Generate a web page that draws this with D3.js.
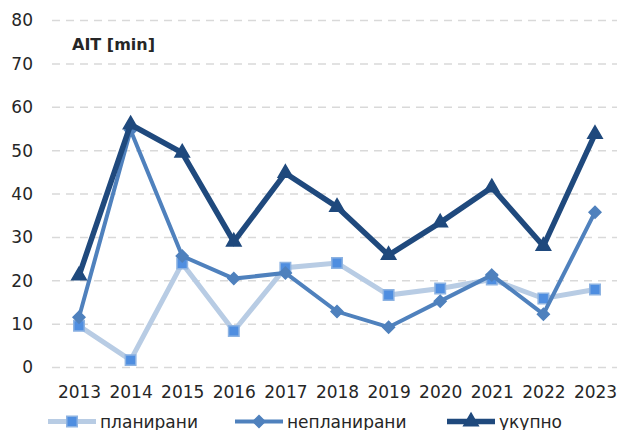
<!DOCTYPE html>
<html lang="mk">
<head>
    <meta charset="UTF-8">
    <title>AIT</title>
    <script src="https://d3js.org/d3.v7.min.js"></script>
    <style>
        body { margin: 0; background: #fff; }
        text { font-family: "DejaVu Sans", sans-serif; fill: #262626; }
    </style>
</head>
<body>
    <script>
        var years = ["2013", "2014", "2015", "2016", "2017", "2018", "2019", "2020", "2021", "2022", "2023"];
        var planirani = [9.6, 1.7, 24.0, 8.4, 23.0, 24.1, 16.7, 18.2, 20.3, 15.9, 18.0];
        var neplanirani = [11.6, 54.7, 25.7, 20.5, 21.8, 12.9, 9.3, 15.3, 21.3, 12.3, 35.8];
        var ukupno = [21.2, 56.0, 49.5, 29.0, 44.8, 37.0, 25.9, 33.4, 41.5, 28.0, 53.8];
        var yTicks = [0, 10, 20, 30, 40, 50, 60, 70, 80];

        var width = 619;
        var height = 430;

        var svg = d3.select("body")
            .append("svg")
            .attr("width", width)
            .attr("height", height);

        var x = d3.scalePoint()
            .domain(years)
            .range([79, 595]);

        var y = d3.scaleLinear()
            .domain([0, 80])
            .range([367.5, 20.5]);

        // gridlines
        svg.append("g")
            .selectAll("line")
            .data(yTicks)
            .enter()
            .append("line")
            .attr("x1", 52)
            .attr("x2", 617)
            .attr("y1", function (d) { return y(d); })
            .attr("y2", function (d) { return y(d); })
            .attr("stroke", "#d9d9d9")
            .attr("stroke-width", 1.5)
            .attr("stroke-dasharray", "8,6");

        // y axis labels
        var yAxis = svg.append("g")
            .attr("transform", "translate(33,0)")
            .call(d3.axisLeft(y).tickValues(yTicks).tickSize(0).tickPadding(0));
        yAxis.select(".domain").remove();
        yAxis.selectAll("text")
            .style("font-family", "DejaVu Sans")
            .attr("font-size", 17)
            .attr("fill", "#262626");

        // x axis labels
        var xAxis = svg.append("g")
            .attr("transform", "translate(0,382)")
            .call(d3.axisBottom(x).tickSize(0).tickPadding(4));
        xAxis.select(".domain").remove();
        xAxis.selectAll("text")
            .style("font-family", "DejaVu Sans")
            .attr("font-size", 17)
            .attr("fill", "#262626");

        svg.append("text")
            .attr("x", 72)
            .attr("y", 50)
            .attr("font-size", 16)
            .attr("font-weight", "bold")
            .attr("fill", "#0d0d0d")
            .text("AIT [min]");

        var series = [
            { name: "планирани", values: planirani, color: "#b8cce4", width: 5, marker: "square", mfill: "#4f8ee0", mstroke: "#8db3e2" },
            { name: "непланирани", values: neplanirani, color: "#4f81bd", width: 4, marker: "diamond", mfill: "#4f81bd", mstroke: "#4f81bd" },
            { name: "укупно", values: ukupno, color: "#1f497d", width: 5.5, marker: "triangle", mfill: "#1f497d", mstroke: "#1f497d" }
        ];

        var line = d3.line()
            .x(function (d, i) { return x(years[i]); })
            .y(function (d) { return y(d); });

        function symbolPath(kind) {
            if (kind === "square") return d3.symbol().type(d3.symbolSquare).size(110)();
            if (kind === "diamond") return d3.symbol().type(d3.symbolDiamond2).size(90)();
            return d3.symbol().type(d3.symbolTriangle2).size(150)();
        }

        series.forEach(function (s) {
            var g = svg.append("g");
            g.append("path")
                .datum(s.values)
                .attr("d", line)
                .attr("fill", "none")
                .attr("stroke", s.color)
                .attr("stroke-width", s.width)
                .attr("stroke-linejoin", "miter");
            g.selectAll(".pt")
                .data(s.values)
                .enter()
                .append("path")
                .attr("class", "pt")
                .attr("transform", function (d, i) {
                    return "translate(" + x(years[i]) + "," + y(d) + ")";
                })
                .attr("d", symbolPath(s.marker))
                .attr("fill", s.mfill)
                .attr("stroke", s.mstroke)
                .attr("stroke-width", 1.5);
        });

        // legend
        var legendX = [48, 235, 447];
        var legend = svg.append("g");
        series.forEach(function (s, i) {
            var lx = legendX[i];
            var ly = 421.5;
            legend.append("line")
                .attr("x1", lx)
                .attr("x2", lx + 48)
                .attr("y1", ly)
                .attr("y2", ly)
                .attr("stroke", s.color)
                .attr("stroke-width", s.width);
            legend.append("path")
                .attr("transform", "translate(" + (lx + 24) + "," + ly + ")")
                .attr("d", symbolPath(s.marker))
                .attr("fill", s.mfill)
                .attr("stroke", s.mstroke)
                .attr("stroke-width", 1.5);
            legend.append("text")
                .attr("x", lx + 52)
                .attr("y", ly + 6)
                .attr("font-size", 17)
                .text(s.name);
        });
    </script>
</body>
</html>
